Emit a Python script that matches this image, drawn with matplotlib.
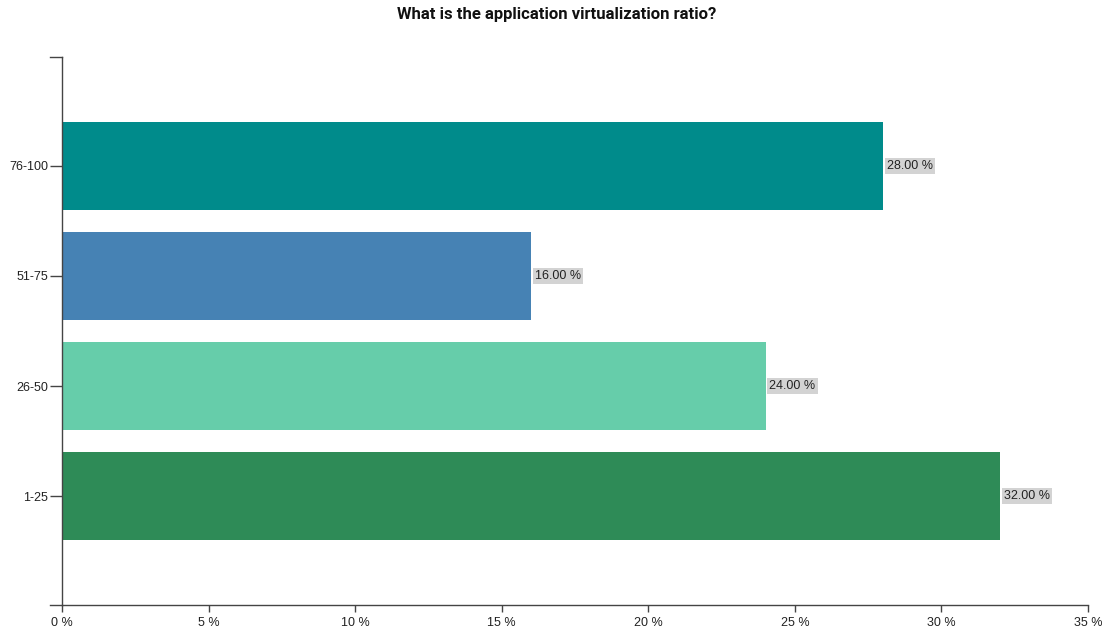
import matplotlib
matplotlib.use("Agg")
import matplotlib.pyplot as plt
from matplotlib.lines import Line2D
from matplotlib.transforms import offset_copy

# Survey answers (bottom to top)
categories = ["1-25", "26-50", "51-75", "76-100"]
shares = [32.0, 24.0, 16.0, 28.0]
colors = ["#2E8B57", "#66CDAA", "#4682B4", "#008B8B"]
x_ticks = [0, 5, 10, 15, 20, 25, 30, 35]
title = "What is the application virtualization ratio?"

W, H = 1114, 629
fig = plt.figure(figsize=(W / 100, H / 100), dpi=100)
left, right, bottom, top = 62, 1088, 605, 57
ax = fig.add_axes([left / W, (H - bottom) / H, (right - left) / W, (bottom - top) / H])

plt.rcParams["font.family"] = ["Roboto", "DejaVu Sans"]
label_font = ["Liberation Sans", "DejaVu Sans"]

ypos = list(range(len(categories)))
ax.barh(ypos, shares, height=0.8, color=colors, zorder=2)

ax.set_xlim(0, 35)
ax.set_ylim(-0.99, len(categories) - 1 + 0.99)

axis_color = "#444444"
for s in ("top", "right"):
    ax.spines[s].set_visible(False)
for s in ("left", "bottom"):
    ax.spines[s].set_color(axis_color)
    ax.spines[s].set_linewidth(1)

ax.set_xticks(x_ticks)
ax.set_xticklabels([f"{v} %" for v in x_ticks], fontsize=9, color="#222222",
                   family=label_font)
ax.set_yticks(ypos)
ax.set_yticklabels(categories, fontsize=9, color="#222222", family=label_font)
ax.tick_params(axis="x", length=5, width=1, color=axis_color, pad=4)
ax.tick_params(axis="y", length=9, width=1, color=axis_color, pad=1)

# outer ticks at the ends of the y axis
for yy in (0, 1):
    ax.add_line(Line2D([-12 / (right - left), 0], [yy, yy], transform=ax.transAxes,
                       color=axis_color, lw=1, clip_on=False))

# value labels
for y, v in zip(ypos, shares):
    t = offset_copy(ax.transData, fig=fig, x=2.8, y=0, units="points")
    ax.text(v, y, f"{v:.2f} %", transform=t, ha="left", va="center",
            fontsize=9, color="#222222", family=label_font,
            bbox=dict(facecolor="#D3D3D3", edgecolor="none", pad=1.5), zorder=3)

fig.text(0.5, 1 - 15 / H, title, ha="center", va="center", fontsize=12,
         fontweight="bold", color="#111111")

fig.savefig("out.png", dpi=100)
